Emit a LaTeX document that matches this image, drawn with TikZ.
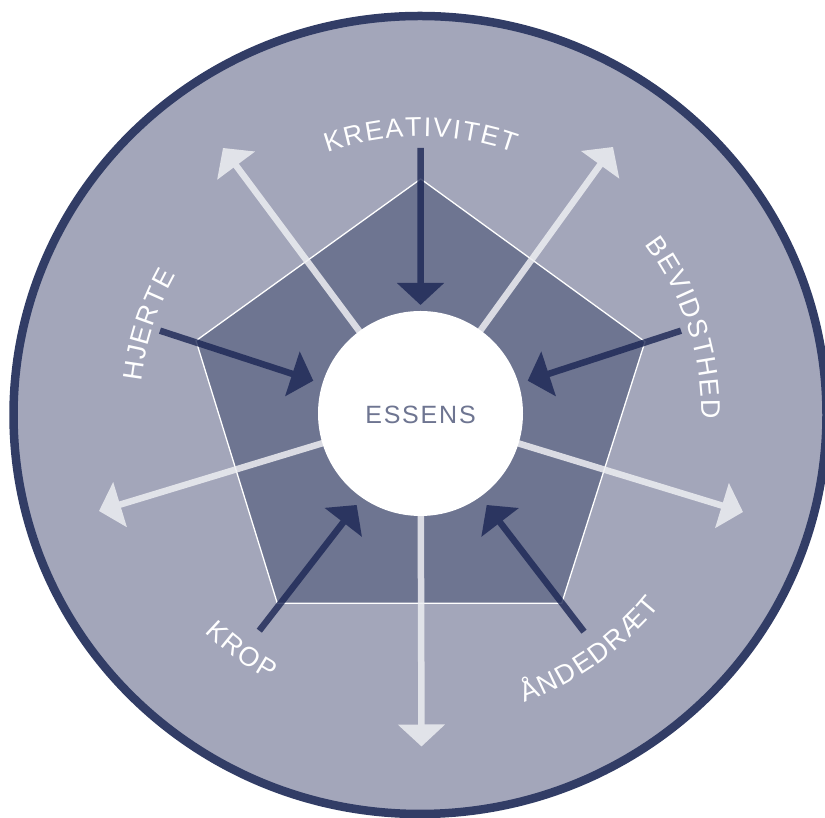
\documentclass[tikz,border=0pt]{standalone}
\usepackage{fontspec}
\setmainfont{Liberation Sans}
\newfontfamily\lblfamily{Liberation Sans}
\usetikzlibrary{arrows.meta,decorations.text,calc}
\definecolor{bgfill}{HTML}{A3A6BA}
\definecolor{ring}{HTML}{323D66}
\definecolor{penta}{HTML}{6E7591}
\definecolor{lightarr}{HTML}{EDEEF2}
\definecolor{darkarr}{HTML}{1B2654}
\definecolor{essenscol}{HTML}{6E7591}
\newcommand\lblfont{\lblfamily\fontsize{27}{27}\selectfont}
\newcommand\essfont{\lblfamily\fontsize{25}{25}\selectfont}
\tikzset{
  outarrow/.style={draw=lightarr, line width=6.5pt, -{Triangle[length=22pt,width=46pt]}},
  inarrow/.style={draw=darkarr, line width=6.5pt, -{Triangle[length=22pt,width=46pt]}},
  arclabel/.style={decorate, decoration={text along path, text align=center, text color=white}},
}
\begin{document}
\begin{tikzpicture}[x=1pt,y=1pt]
\useasboundingbox (0,0) rectangle (825,818);
\clip (0,0) rectangle (825,818);
\coordinate (C) at (420.5,404.5);
% outer disc
\draw[draw=ring, fill=bgfill, line width=8.5pt] (420,403) ellipse [x radius=406.5, y radius=399];
% pentagon
\coordinate (pT) at (420.7,639);
\coordinate (pR) at (645,476.3);
\coordinate (pBR) at (561.7,214.7);
\coordinate (pBL) at (277.3,214.7);
\coordinate (pL) at (196,477.3);
\draw[fill=penta, draw=white, line width=1.3pt, line join=miter] (pT) -- (pR) -- (pBR) -- (pBL) -- (pL) -- cycle;
% light arrows (outward)
\coordinate (oTL) at (223,670);
\coordinate (oTR) at (613,671);
\coordinate (oR) at (743,306);
\coordinate (oB) at (421.5,71.5);
\coordinate (oL) at (99,307);
\begin{scope}[transparency group, opacity=0.85]
\draw[outarrow] (C) -- (oTL);
\draw[outarrow] (C) -- (oTR);
\draw[outarrow] (C) -- (oR);
\draw[outarrow] (C) -- (oB);
\draw[outarrow] (C) -- (oL);
\end{scope}
% dark arrows (inward)
\coordinate (iTs) at (420.5,670);  \coordinate (iTe) at (420.5,513);
\coordinate (iRs) at (681,487.3);  \coordinate (iRe) at (527.7,437.3);
\coordinate (iBRs) at (584,186.3); \coordinate (iBRe) at (486.7,313);
\coordinate (iBLs) at (259.3,187.3); \coordinate (iBLe) at (356.7,313);
\coordinate (iLs) at (160,487.3);  \coordinate (iLe) at (313.3,437.3);
\begin{scope}[transparency group, opacity=0.8]
\draw[inarrow] (iTs) -- (iTe);
\draw[inarrow] (iRs) -- (iRe);
\draw[inarrow] (iBRs) -- (iBRe);
\draw[inarrow] (iBLs) -- (iBLe);
\draw[inarrow] (iLs) -- (iLe);
\end{scope}
% centre
\node[circle, fill=white, minimum size=205pt, inner sep=0pt] (core) at (C) {};
\node[text=essenscol, font=\essfont, inner sep=0pt] (ess) at (420.5,403) {E\kern1.8pt S\kern1.8pt S\kern1.8pt E\kern1.8pt N\kern1.8pt S};
% labels
\path[arclabel, decoration={text={|\lblfont|K{\kern1.6pt}R{\kern1.6pt}E{\kern1.6pt}A{\kern1.6pt}T{\kern1.6pt}I{\kern1.6pt}V{\kern1.6pt}I{\kern1.6pt}T{\kern1.6pt}E{\kern1.6pt}T}}]
  ($(C)+(125:277)$) arc[start angle=125, end angle=55, radius=277];
\path[arclabel, decoration={text={|\lblfont|B{\kern1.6pt}E{\kern1.6pt}V{\kern1.6pt}I{\kern1.6pt}D{\kern1.6pt}S{\kern1.6pt}T{\kern1.6pt}H{\kern1.6pt}E{\kern1.6pt}D}}]
  ($(C)+(53:281)$) arc[start angle=53, end angle=-17, radius=281];
\path[arclabel, decoration={text={|\lblfont|H{\kern1.6pt}J{\kern1.6pt}E{\kern1.6pt}R{\kern1.6pt}T{\kern1.6pt}E}}]
  ($(C)+(197:281)$) arc[start angle=197, end angle=127, radius=281];
\path[arclabel, decoration={text={|\lblfont|K{\kern1.6pt}R{\kern1.6pt}O{\kern1.6pt}P}}]
  ($(C)+(203:307)$) arc[start angle=203, end angle=263, radius=307];
\path[arclabel, decoration={text={|\lblfont|Å{\kern1.6pt}N{\kern1.6pt}D{\kern1.6pt}E{\kern1.6pt}D{\kern1.6pt}R{\kern1.6pt}Æ{\kern1.6pt}T}}]
  ($(C)+(-89.5:307)$) arc[start angle=-89.5, end angle=-19.5, radius=307];
\end{tikzpicture}
\end{document}
